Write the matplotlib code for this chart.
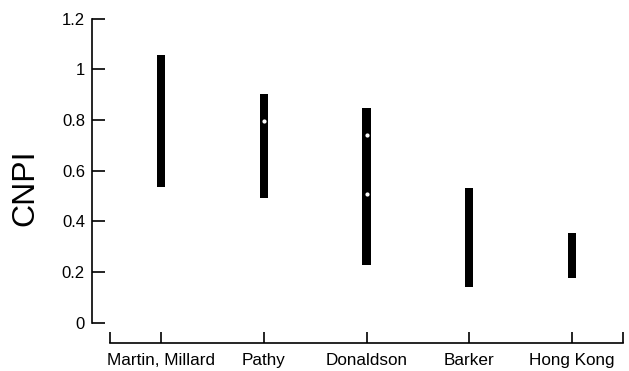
import matplotlib.pyplot as plt

plt.rcParams['font.family'] = ['Liberation Sans', 'DejaVu Sans']

# studies and CNPI ranges
studies = ['Martin, Millard', 'Pathy', 'Donaldson', 'Barker', 'Hong Kong']
low = [0.537, 0.491, 0.228, 0.142, 0.175]
high = [1.056, 0.902, 0.846, 0.530, 0.355]
# small white points inside the bars
dot_x = [1, 2, 2]
dot_y = [0.797, 0.741, 0.508]

yticks = [0, 0.2, 0.4, 0.6, 0.8, 1, 1.2]
ytick_labels = ['0', '0.2', '0.4', '0.6', '0.8', '1', '1.2']

W, H = 629, 371
fig = plt.figure(figsize=(W / 100, H / 100), dpi=100)
ax = fig.add_axes([110 / W, (H - 322.7) / H, (623 - 110) / W, (322.7 - 18.6) / H])

x = list(range(len(studies)))
heights = [h - l for h, l in zip(high, low)]
ax.bar(x, heights, bottom=low, width=0.08, color='black', edgecolor='none')
ax.scatter(dot_x, dot_y, s=4, color='white', zorder=3)

ax.set_xlim(-0.5, len(studies) - 0.5)
ax.set_ylim(0, 1.2)

for side in ['top', 'right']:
    ax.spines[side].set_visible(False)
ax.spines['left'].set_position(('outward', 13))
ax.spines['bottom'].set_position(('outward', 14.6))
ax.spines['left'].set_linewidth(1.2)
ax.spines['bottom'].set_linewidth(1.2)

ax.set_yticks(yticks)
ax.set_yticklabels(ytick_labels)
ax.set_xticks(x)
ax.set_xticklabels(studies)
ax.set_xticks([-0.5, len(studies) - 0.5], minor=True)

ax.tick_params(axis='y', direction='in', length=9.4, width=1.2, pad=5, labelsize=12)
ax.tick_params(axis='x', which='both', direction='in', length=8, width=1.2, pad=7, labelsize=12.3)

fig.text(25 / W, (H - 188) / H, 'CNPI', rotation=90, ha='center', va='center', fontsize=23)

fig.savefig('out.png', dpi=100)
